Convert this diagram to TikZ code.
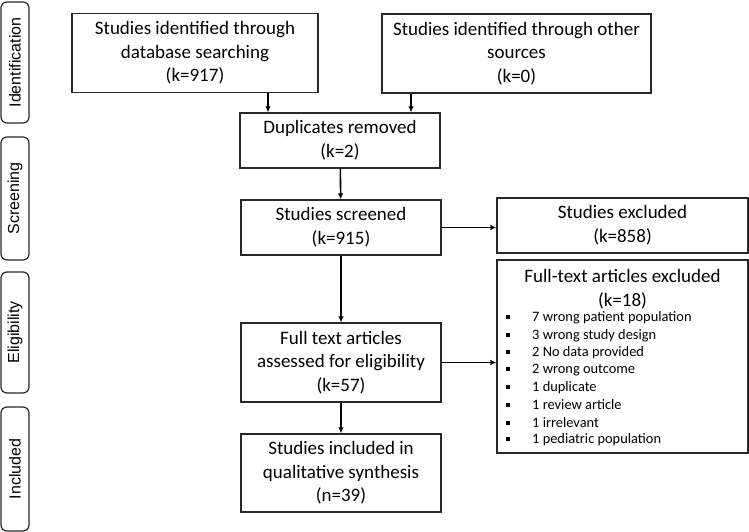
\documentclass[tikz,border=0pt]{standalone}
\usepackage{fontspec}
\setmainfont{Carlito}
\newfontfamily\phasefont{Liberation Sans}
\usetikzlibrary{arrows.meta}
\definecolor{boxline}{RGB}{40, 40, 40}

\tikzset{
  stagebox/.style={draw=boxline, line width=1.2pt, inner sep=0pt, align=center,
    font=\fontsize{19}{23.6}\selectfont},
  phasebox/.style={draw=boxline, line width=1.2pt, rounded corners=6pt, inner sep=0pt,
    rotate=90, minimum height=28pt, font=\phasefont\fontsize{16}{19}\selectfont},
  flow/.style={-{Latex[length=6pt, width=5.5pt]}, line width=1.6pt},
  reason/.style={anchor=west, inner sep=0pt, font=\fontsize{14.4}{17}\selectfont}
}

\begin{document}
\begin{tikzpicture}[x=1pt, y=-1pt]
  \useasboundingbox (0,0) rectangle (749,532);

  % ── Phase labels ──────────────────────────────────────────────────────────
  \node[phasebox, minimum width=121pt] (identification) at (15, 62.5) {Identification};
  \node[phasebox, minimum width=123pt] (screening) at (15, 198.5) {Screening};
  \node[phasebox, minimum width=121pt] (eligibility) at (15, 332.5) {Eligibility};
  \node[phasebox, minimum width=124pt] (included) at (15, 469) {Included};

  % ── Identification ────────────────────────────────────────────────────────
  \node[stagebox, minimum width=246pt, minimum height=79pt] (database) at (195, 53)
    {Studies identified through\\database searching\\(k=917)};
  \node[stagebox, minimum width=269pt, minimum height=79pt] (other) at (516.5, 53.5)
    {Studies identified through other\\sources\\(k=0)};

  % ── Screening ─────────────────────────────────────────────────────────────
  \node[stagebox, minimum width=200pt, minimum height=55pt] (duplicates) at (340, 140.5)
    {Duplicates removed\\(k=2)};
  \node[stagebox, minimum width=200pt, minimum height=55pt] (screened) at (341, 227.5)
    {Studies screened\\(k=915)};
  \node[stagebox, minimum width=251pt, minimum height=55pt] (excluded) at (622.5, 225.5)
    {Studies excluded\\(k=858)};

  % ── Eligibility ───────────────────────────────────────────────────────────
  \node[stagebox, minimum width=200pt, minimum height=79pt] (fulltext) at (341, 362.5)
    {Full text articles\\assessed for eligibility\\(k=57)};
  \node[stagebox, minimum width=251pt, minimum height=193pt] (ftexcluded) at (622.5, 356.5) {};
  \node[stagebox, draw=none] (ftexcltitle) at (622.5, 289)
    {Full-text articles excluded\\(k=18)};

  % reasons for exclusion, one per line
  \foreach \reasontext [count=\i from 0] in {7 wrong patient population,
      3 wrong study design, 2 No data provided, 2 wrong outcome, 1 duplicate,
      1 review article, 1 irrelevant, 1 pediatric population}
    \node[reason] (reason\i) at (506, 318+17.4*\i)
      {\makebox[26pt][l]{\rule[2.5pt]{4pt}{4pt}}\reasontext};

  % ── Included ──────────────────────────────────────────────────────────────
  \node[stagebox, minimum width=200pt, minimum height=78pt] (synthesis) at (341, 473)
    {Studies included in\\qualitative synthesis\\(n=39)};

  % ── Arrows ────────────────────────────────────────────────────────────────
  \draw[flow] ([xshift=73pt]database.south) -- ([xshift=73pt]database.south |- duplicates.north);
  \draw[flow] ([xshift=-105.5pt]other.south) -- ([xshift=-105.5pt]other.south |- duplicates.north);
  \draw[flow] (duplicates) -- (screened);
  \draw[flow] (screened.east) -- (screened.east -| excluded.west);
  \draw[flow] (screened) -- (fulltext);
  \draw[flow] (fulltext.east) -- (fulltext.east -| ftexcluded.west);
  \draw[flow] (fulltext) -- (synthesis);

\end{tikzpicture}
\end{document}
